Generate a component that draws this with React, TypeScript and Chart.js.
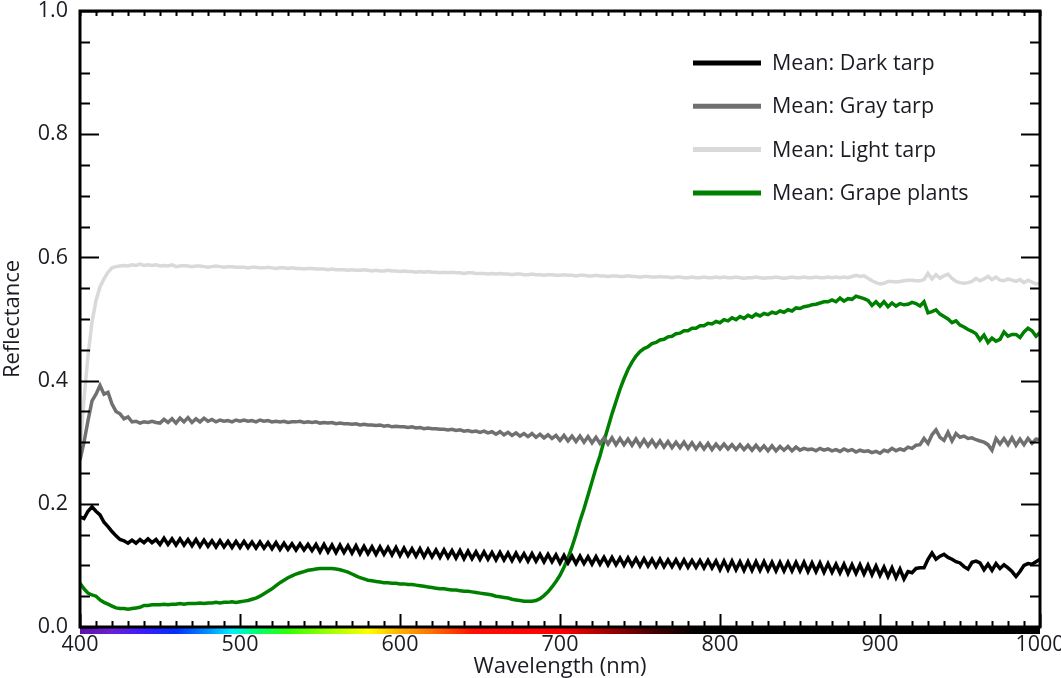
import React, { useEffect, useRef } from 'react';
import { Chart, registerables } from 'chart.js';

Chart.register(...registerables);

// Sampling grid (nm)
const WL_START = 400;
const WL_STEP = 2.5;
const WL_COUNT = 241;
const wavelengths: number[] = Array.from({ length: WL_COUNT }, (_, i) => WL_START + i * WL_STEP);

const xTickValues = [400, 500, 600, 700, 800, 900, 1000];
const xTickLabels = ['400', '500', '600', '700', '800', '900', '1000'];
const yTickValues = [0, 0.2, 0.4, 0.6, 0.8, 1.0];
const yTickLabels = ['0.0', '0.2', '0.4', '0.6', '0.8', '1.0'];

const seriesLabels = ['Mean: Dark tarp', 'Mean: Gray tarp', 'Mean: Light tarp', 'Mean: Grape plants'];
const seriesColors = ['#000000', '#707070', '#d9d9d9', '#008000'];

const darkTarp = [
  0.179,0.176,0.188,0.195,0.188,0.182,0.170,0.163,0.155,0.148,0.142,0.140,0.136,0.141,0.136,0.142,0.137,0.143,0.137,0.142,
  0.134,0.144,0.134,0.143,0.133,0.143,0.133,0.142,0.132,0.142,0.131,0.141,0.131,0.140,0.130,0.140,0.130,0.139,0.129,0.139,
  0.129,0.139,0.129,0.138,0.128,0.138,0.128,0.137,0.127,0.137,0.126,0.136,0.126,0.135,0.125,0.135,0.125,0.134,0.124,0.134,
  0.122,0.134,0.122,0.133,0.121,0.133,0.121,0.132,0.120,0.132,0.119,0.131,0.119,0.130,0.118,0.130,0.118,0.129,0.117,0.129,
  0.116,0.128,0.116,0.127,0.115,0.127,0.114,0.126,0.114,0.125,0.113,0.125,0.113,0.124,0.112,0.124,0.111,0.123,0.111,0.122,
  0.110,0.122,0.110,0.121,0.109,0.121,0.109,0.120,0.108,0.120,0.108,0.119,0.107,0.119,0.107,0.118,0.106,0.118,0.106,0.117,
  0.104,0.116,0.104,0.115,0.103,0.115,0.103,0.114,0.102,0.114,0.102,0.113,0.101,0.113,0.101,0.112,0.100,0.112,0.100,0.111,
  0.099,0.111,0.099,0.110,0.098,0.110,0.098,0.109,0.098,0.109,0.097,0.109,0.097,0.108,0.097,0.108,0.096,0.108,0.096,0.107,
  0.093,0.107,0.093,0.107,0.093,0.106,0.092,0.106,0.092,0.106,0.092,0.106,0.092,0.105,0.091,0.105,0.091,0.105,0.091,0.105,
  0.091,0.105,0.090,0.104,0.090,0.104,0.089,0.103,0.089,0.102,0.088,0.102,0.087,0.101,0.087,0.101,0.086,0.100,0.085,0.099,
  0.084,0.097,0.082,0.096,0.080,0.094,0.078,0.090,0.088,0.095,0.096,0.096,0.110,0.120,0.110,0.115,0.118,0.113,0.110,0.106,
  0.104,0.098,0.094,0.105,0.107,0.104,0.093,0.102,0.092,0.103,0.095,0.101,0.096,0.090,0.082,0.090,0.100,0.103,0.102,0.106,
  0.110,
];

const grayTarp = [
  0.271,0.300,0.335,0.367,0.378,0.392,0.378,0.381,0.362,0.350,0.346,0.338,0.341,0.333,0.334,0.331,0.333,0.332,0.334,0.332,
  0.331,0.337,0.332,0.338,0.331,0.339,0.333,0.340,0.332,0.338,0.333,0.339,0.334,0.337,0.333,0.336,0.334,0.335,0.333,0.336,
  0.334,0.336,0.334,0.335,0.333,0.336,0.334,0.335,0.333,0.334,0.333,0.334,0.332,0.333,0.333,0.334,0.332,0.333,0.332,0.333,
  0.331,0.332,0.331,0.332,0.330,0.331,0.330,0.330,0.329,0.330,0.328,0.329,0.328,0.328,0.327,0.328,0.326,0.327,0.325,0.326,
  0.325,0.325,0.324,0.325,0.323,0.324,0.322,0.323,0.322,0.322,0.321,0.321,0.320,0.321,0.319,0.320,0.318,0.319,0.317,0.318,
  0.316,0.318,0.315,0.317,0.313,0.317,0.312,0.316,0.311,0.315,0.310,0.314,0.309,0.314,0.308,0.313,0.307,0.312,0.306,0.311,
  0.303,0.311,0.302,0.310,0.301,0.310,0.300,0.309,0.299,0.308,0.298,0.307,0.297,0.307,0.296,0.306,0.296,0.305,0.295,0.305,
  0.294,0.304,0.294,0.303,0.293,0.302,0.292,0.301,0.291,0.300,0.291,0.300,0.290,0.299,0.289,0.298,0.289,0.298,0.288,0.297,
  0.289,0.297,0.289,0.296,0.288,0.296,0.288,0.295,0.287,0.295,0.287,0.294,0.286,0.294,0.286,0.293,0.287,0.293,0.286,0.292,
  0.287,0.290,0.288,0.289,0.286,0.290,0.287,0.289,0.286,0.288,0.285,0.289,0.286,0.288,0.284,0.287,0.285,0.286,0.283,0.285,
  0.282,0.287,0.285,0.290,0.286,0.289,0.287,0.292,0.290,0.295,0.296,0.306,0.298,0.312,0.320,0.308,0.303,0.316,0.302,0.314,
  0.308,0.310,0.306,0.307,0.304,0.302,0.300,0.296,0.287,0.306,0.297,0.306,0.296,0.307,0.295,0.305,0.296,0.306,0.298,0.305,
  0.304,
];

const lightTarp = [
  0.285,0.370,0.440,0.495,0.530,0.552,0.565,0.576,0.583,0.585,0.586,0.587,0.586,0.588,0.587,0.589,0.587,0.588,0.587,0.588,
  0.586,0.587,0.586,0.588,0.585,0.586,0.587,0.586,0.585,0.586,0.586,0.585,0.584,0.585,0.586,0.585,0.584,0.585,0.585,0.584,
  0.584,0.584,0.583,0.584,0.584,0.583,0.583,0.584,0.583,0.582,0.583,0.583,0.582,0.583,0.582,0.582,0.581,0.582,0.582,0.581,
  0.581,0.581,0.580,0.581,0.580,0.580,0.580,0.579,0.580,0.579,0.579,0.580,0.579,0.578,0.579,0.578,0.578,0.579,0.578,0.578,
  0.577,0.578,0.577,0.577,0.576,0.577,0.576,0.577,0.576,0.576,0.575,0.576,0.575,0.576,0.575,0.575,0.574,0.575,0.575,0.574,
  0.574,0.574,0.573,0.574,0.573,0.574,0.573,0.573,0.572,0.573,0.573,0.572,0.572,0.573,0.572,0.572,0.571,0.572,0.572,0.571,
  0.571,0.572,0.571,0.571,0.570,0.571,0.571,0.570,0.570,0.571,0.570,0.570,0.569,0.570,0.570,0.569,0.569,0.570,0.569,0.569,
  0.568,0.569,0.569,0.568,0.568,0.569,0.568,0.568,0.567,0.568,0.568,0.567,0.567,0.568,0.567,0.567,0.568,0.567,0.567,0.568,
  0.567,0.568,0.567,0.567,0.568,0.567,0.566,0.567,0.567,0.568,0.567,0.566,0.567,0.567,0.568,0.567,0.566,0.567,0.568,0.567,
  0.567,0.568,0.567,0.567,0.568,0.567,0.567,0.568,0.567,0.568,0.567,0.568,0.567,0.569,0.571,0.569,0.570,0.566,0.562,0.559,
  0.557,0.558,0.561,0.561,0.560,0.561,0.562,0.563,0.563,0.562,0.562,0.564,0.574,0.565,0.572,0.566,0.570,0.573,0.566,0.561,
  0.559,0.558,0.559,0.561,0.566,0.562,0.565,0.569,0.564,0.568,0.563,0.562,0.565,0.563,0.561,0.564,0.559,0.563,0.560,0.557,
  0.558,
];

const grapePlants = [
  0.071,0.062,0.055,0.052,0.050,0.044,0.040,0.037,0.034,0.031,0.030,0.030,0.029,0.030,0.031,0.032,0.035,0.035,0.036,0.036,
  0.036,0.037,0.036,0.037,0.037,0.038,0.037,0.038,0.038,0.038,0.039,0.038,0.039,0.039,0.040,0.039,0.040,0.040,0.041,0.040,
  0.041,0.042,0.043,0.045,0.047,0.050,0.054,0.058,0.062,0.067,0.072,0.076,0.080,0.083,0.086,0.088,0.090,0.092,0.093,0.094,
  0.095,0.095,0.095,0.095,0.094,0.093,0.091,0.089,0.086,0.083,0.080,0.078,0.076,0.075,0.074,0.073,0.072,0.072,0.071,0.071,
  0.070,0.070,0.069,0.069,0.068,0.067,0.066,0.065,0.064,0.063,0.062,0.062,0.061,0.060,0.060,0.059,0.058,0.058,0.057,0.056,
  0.055,0.054,0.053,0.052,0.050,0.049,0.048,0.047,0.045,0.044,0.043,0.042,0.042,0.042,0.043,0.046,0.051,0.057,0.065,0.074,
  0.084,0.097,0.112,0.130,0.150,0.172,0.192,0.214,0.236,0.258,0.278,0.302,0.324,0.346,0.366,0.386,0.403,0.418,0.430,0.440,
  0.447,0.452,0.455,0.460,0.462,0.466,0.467,0.471,0.472,0.476,0.477,0.481,0.481,0.485,0.485,0.489,0.489,0.493,0.492,0.496,
  0.494,0.499,0.497,0.502,0.499,0.504,0.501,0.506,0.503,0.508,0.505,0.509,0.507,0.511,0.509,0.513,0.511,0.515,0.513,0.518,
  0.517,0.520,0.521,0.523,0.524,0.526,0.528,0.528,0.531,0.528,0.534,0.529,0.533,0.532,0.537,0.535,0.533,0.530,0.522,0.528,
  0.521,0.528,0.520,0.526,0.521,0.525,0.523,0.524,0.527,0.525,0.521,0.528,0.510,0.512,0.515,0.508,0.504,0.500,0.494,0.497,
  0.490,0.487,0.483,0.480,0.476,0.466,0.474,0.462,0.469,0.464,0.467,0.479,0.472,0.475,0.475,0.470,0.479,0.485,0.481,0.472,
  0.478,
];

// Visible spectrum colour stops for the strip under the x axis (nm, colour)
const spectrumStops: [number, string][] = [
  [400, '#5b12a8'], [420, '#6a1fd6'], [440, '#3a1cff'], [460, '#0030ff'], [480, '#0090ff'],
  [495, '#00f0ff'], [510, '#00ff70'], [530, '#30ff00'], [560, '#b0ff00'], [580, '#ffff00'],
  [600, '#ffb000'], [620, '#ff7000'], [645, '#ff1000'], [700, '#ff0000'], [730, '#a00000'],
  [760, '#400000'], [785, '#000000'], [1000, '#000000'],
];

const FONT = '"Open Sans", "DejaVu Sans", sans-serif';
const TEXT_COLOR = '#1b1b24';

const axesPlugin = {
  id: 'axesFrame',
  afterDatasetsDraw(chart: any) {
    const { ctx, chartArea } = chart;
    const { left, right, top, bottom } = chartArea;
    const xs = chart.scales.x;
    const ys = chart.scales.y;
    ctx.save();
    // spectrum strip
    const x0 = xs.getPixelForValue(400);
    const x1 = xs.getPixelForValue(1000);
    const grad = ctx.createLinearGradient(x0, 0, x1, 0);
    spectrumStops.forEach(([w, c]) => grad.addColorStop((w - 400) / 600, c));
    ctx.fillStyle = grad;
    ctx.fillRect(x0, bottom, x1 - x0, 7);

    ctx.strokeStyle = '#000';
    ctx.lineWidth = 2;
    // y ticks every 0.05, major every 0.2
    for (let i = 0; i <= 20; i++) {
      const v = i * 0.05;
      const y = Math.round(ys.getPixelForValue(v)) + 0.5;
      const len = i % 4 === 0 ? 19 : 10;
      ctx.beginPath();
      ctx.moveTo(left, y); ctx.lineTo(left + len, y);
      ctx.moveTo(right, y); ctx.lineTo(right - len, y);
      ctx.stroke();
    }
    // x ticks every 10 nm, major every 100
    for (let w = 400; w <= 1000; w += 10) {
      const x = Math.round(xs.getPixelForValue(w)) + 0.5;
      const major = w % 100 === 0;
      ctx.beginPath();
      ctx.moveTo(x, bottom); ctx.lineTo(x, bottom - (major ? 13 : 6));
      ctx.moveTo(x, top); ctx.lineTo(x, top + 5);
      ctx.stroke();
    }
    // frame
    ctx.lineWidth = 3;
    ctx.strokeRect(left, top, right - left, bottom - top);
    ctx.restore();
  },
  afterDraw(chart: any) {
    const { ctx, chartArea } = chart;
    ctx.save();
    const lx0 = chartArea.right - 347;
    const lx1 = chartArea.right - 279;
    const tx = chartArea.right - 268;
    const y0 = chartArea.top + 52;
    const dy = 43.3;
    ctx.font = `21.5px ${FONT}`;
    ctx.textBaseline = 'middle';
    ctx.textAlign = 'left';
    chart.data.datasets.forEach((ds: any, i: number) => {
      const y = y0 + i * dy;
      ctx.strokeStyle = ds.borderColor;
      ctx.lineWidth = 5;
      ctx.beginPath();
      ctx.moveTo(lx0, y); ctx.lineTo(lx1, y);
      ctx.stroke();
      ctx.fillStyle = TEXT_COLOR;
      ctx.fillText(ds.label, tx, y + 1);
    });
    ctx.restore();
  },
};

export default function App() {
  const ref = useRef<HTMLCanvasElement | null>(null);
  useEffect(() => {
    document.body.style.margin = '0';
    const canvas = ref.current;
    if (!canvas) return;
    const allSeries = [darkTarp, grayTarp, lightTarp, grapePlants];
    const chart = new Chart(canvas, {
      type: 'line',
      data: {
        datasets: allSeries.map((vals, si) => ({
          label: seriesLabels[si],
          data: wavelengths.map((w, i) => ({ x: w, y: vals[i] })),
          borderColor: seriesColors[si],
          backgroundColor: seriesColors[si],
          borderWidth: 3.5,
          pointRadius: 0,
          tension: 0,
          fill: false,
        })),
      },
      options: {
        animation: false,
        responsive: false,
        maintainAspectRatio: false,
        layout: { padding: { top: 11, right: 21, left: 0, bottom: 0 } },
        plugins: { legend: { display: false }, tooltip: { enabled: false } },
        scales: {
          x: {
            type: 'linear',
            min: 400,
            max: 1000,
            afterBuildTicks: (s: any) => { s.ticks = xTickValues.map((v) => ({ value: v })); },
            ticks: {
              autoSkip: false,
              maxRotation: 0,
              padding: 5,
              font: { family: FONT, size: 21.5 },
              color: TEXT_COLOR,
              callback: (_v: any, i: number) => xTickLabels[i],
            },
            grid: { display: false, drawTicks: false },
            border: { display: false },
            title: {
              display: true,
              text: 'Wavelength (nm)',
              font: { family: FONT, size: 22 },
              color: TEXT_COLOR,
              padding: { top: 0, bottom: -2 },
            },
            afterFit: (s: any) => { s.height = 51; s.paddingLeft = 0; s.paddingRight = 0; },
          },
          y: {
            type: 'linear',
            min: 0,
            max: 1,
            afterBuildTicks: (s: any) => { s.ticks = yTickValues.map((v) => ({ value: v })); },
            ticks: {
              padding: 12,
              font: { family: FONT, size: 21.5 },
              color: TEXT_COLOR,
              callback: (_v: any, i: number) => yTickLabels[i],
            },
            grid: { display: false, drawTicks: false },
            border: { display: false },
            title: {
              display: true,
              text: 'Reflectance',
              font: { family: FONT, size: 22 },
              color: TEXT_COLOR,
              padding: { top: 0, bottom: 0 },
            },
            afterFit: (s: any) => { s.width = 80; s.paddingTop = 0; s.paddingBottom = 0; },
          },
        },
      },
      plugins: [axesPlugin],
    });
    return () => chart.destroy();
  }, []);
  return (
    <div style={{ width: 1061, height: 678, background: '#fff' }}>
      <canvas ref={ref} width={1061} height={678} style={{ display: 'block' }} />
    </div>
  );
}
